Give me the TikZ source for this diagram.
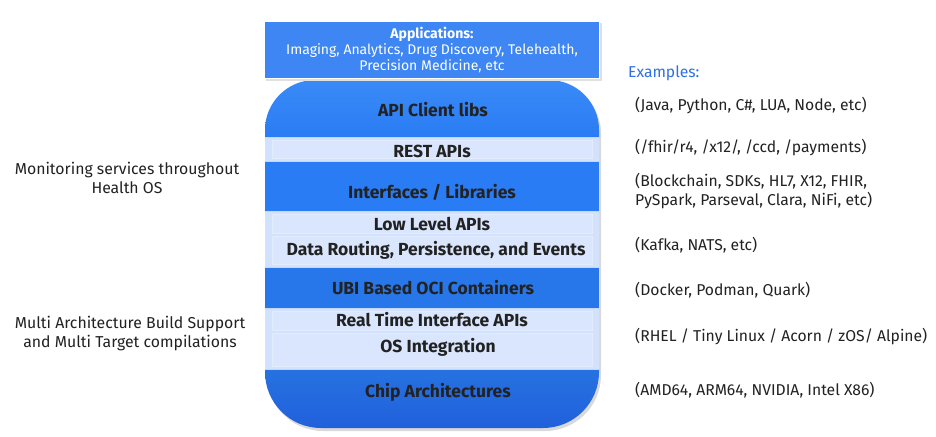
\documentclass[tikz,border=0pt]{standalone}
\usepackage{fontspec}
\setmainfont{Fira Sans}
\definecolor{bandblue}{HTML}{2A7CF4}
\definecolor{bandtop}{HTML}{3A8AF6}
\definecolor{bandbot}{HTML}{2160DC}
\definecolor{lightband}{HTML}{D2E2FC}
\definecolor{lightinner}{HTML}{D9E6FD}
\definecolor{appblue}{HTML}{3F86F5}
\definecolor{labeltext}{HTML}{222222}
\definecolor{exblue}{HTML}{2F6FEA}
\begin{document}
\begin{tikzpicture}[x=1pt,y=-1pt,
  bandlabel/.style={font=\fontsize{17.5}{20}\selectfont\bfseries, text=labeltext, inner sep=0pt},
  sidetext/.style={font=\fontsize{15.8}{19}\selectfont, text=labeltext, inner sep=0pt},
  extext/.style={font=\fontsize{15.7}{18.5}\selectfont, text=labeltext, inner sep=0pt, anchor=west, align=left},
  inner/.style={draw=white!35!lightband, line width=0.7pt, fill=lightinner}
]
\useasboundingbox (0,0) rectangle (936,436);
\fill[white] (0,0) rectangle (936,436);
\def\stackpath#1#2{(265+#1,250+#2) [rounded corners=50pt] -- (265+#1,80+#2) -- (599+#1,80+#2) -- (599+#1,250+#2) [rounded corners=56pt] -- (599+#1,428+#2) -- (265+#1,428+#2) [sharp corners] -- cycle}
% shadow of stack
\fill[black!15] \stackpath{2}{3};
% stack
\begin{scope}
\clip \stackpath{0}{0};
\shade[top color=bandtop, bottom color=bandblue] (265,80) rectangle (599,137);
\fill[lightband] (265,137) rectangle (599,161);
\fill[bandblue] (265,161) rectangle (599,211);
\fill[lightband] (265,211) rectangle (599,267);
\fill[bandblue!96!black] (265,267) rectangle (599,308);
\fill[lightband] (265,308) rectangle (599,369);
\shade[top color=bandblue!92!black, bottom color=bandbot] (265,369) rectangle (599,428);
% inner panels of the light bands
\fill[inner] (272,140) rectangle (592,158);
\fill[inner] (272,214) rectangle (592,233);
\fill[inner] (272,236) rectangle (592,264);
\fill[inner] (272,311) rectangle (592,330);
\fill[inner] (272,333) rectangle (592,366);
% separator lines
\foreach \yy in {137,161,211,267,308,369} \draw[white!70!bandblue, line width=0.6pt] (265,\yy) -- (599,\yy);
\end{scope}
% application box
\fill[black!12] (266,23) rectangle (602,81);
\node[draw=white, line width=1.5pt, fill=appblue, minimum width=335pt, minimum height=57pt, inner sep=0pt] (apps) at (432,50) {};
\node[font=\fontsize{14}{16}\selectfont, text=white, align=center, inner sep=0pt] (appstext) at (apps.center)
  {\textbf{Applications:}\\Imaging, Analytics, Drug Discovery, Telehealth,\\Precision Medicine, etc};
% band labels
\node[bandlabel] (l1) at (433,110) {API Client libs};
\node[bandlabel] (l2) at (432,151) {REST APIs};
\node[bandlabel] (l3) at (432,192) {Interfaces / Libraries};
\node[bandlabel] (l4) at (432,224) {Low Level APIs};
\node[bandlabel] (l5) at (436,250) {Data Routing, Persistence, and Events};
\node[bandlabel] (l6) at (433,288) {UBI Based OCI Containers};
\node[bandlabel] (l7) at (432,320) {Real Time Interface APIs};
\node[bandlabel] (l8) at (438,347) {OS Integration};
\node[bandlabel] (l9) at (438,392) {Chip Architectures};
% left texts
\node[sidetext, align=center] (mon) at (127,178) {Monitoring services throughout\\Health OS};
\node[sidetext, align=center] (multi) at (130,334) {Multi Architecture Build Support\\and Multi Target compilations};
% examples
\node[extext, text=exblue] (exh) at (628,73) {Examples:};
\node[extext] (e1) at (635,106) {(Java, Python, C\#, LUA, Node, etc)};
\node[extext] (e2) at (635,148) {(/fhir/r4, /x12/, /ccd, /payments)};
\node[extext] (e3) at (635,191) {(Blockchain, SDKs, HL7, X12, FHIR,\\PySpark, Parseval, Clara, NiFi, etc)};
\node[extext] (e4) at (635,245) {(Kafka, NATS, etc)};
\node[extext] (e5) at (635,290) {(Docker, Podman, Quark)};
\node[extext] (e6) at (635,337) {(RHEL / Tiny Linux / Acorn / zOS/ Alpine)};
\node[extext] (e7) at (635,390) {(AMD64, ARM64, NVIDIA, Intel X86)};
\end{tikzpicture}
\end{document}
